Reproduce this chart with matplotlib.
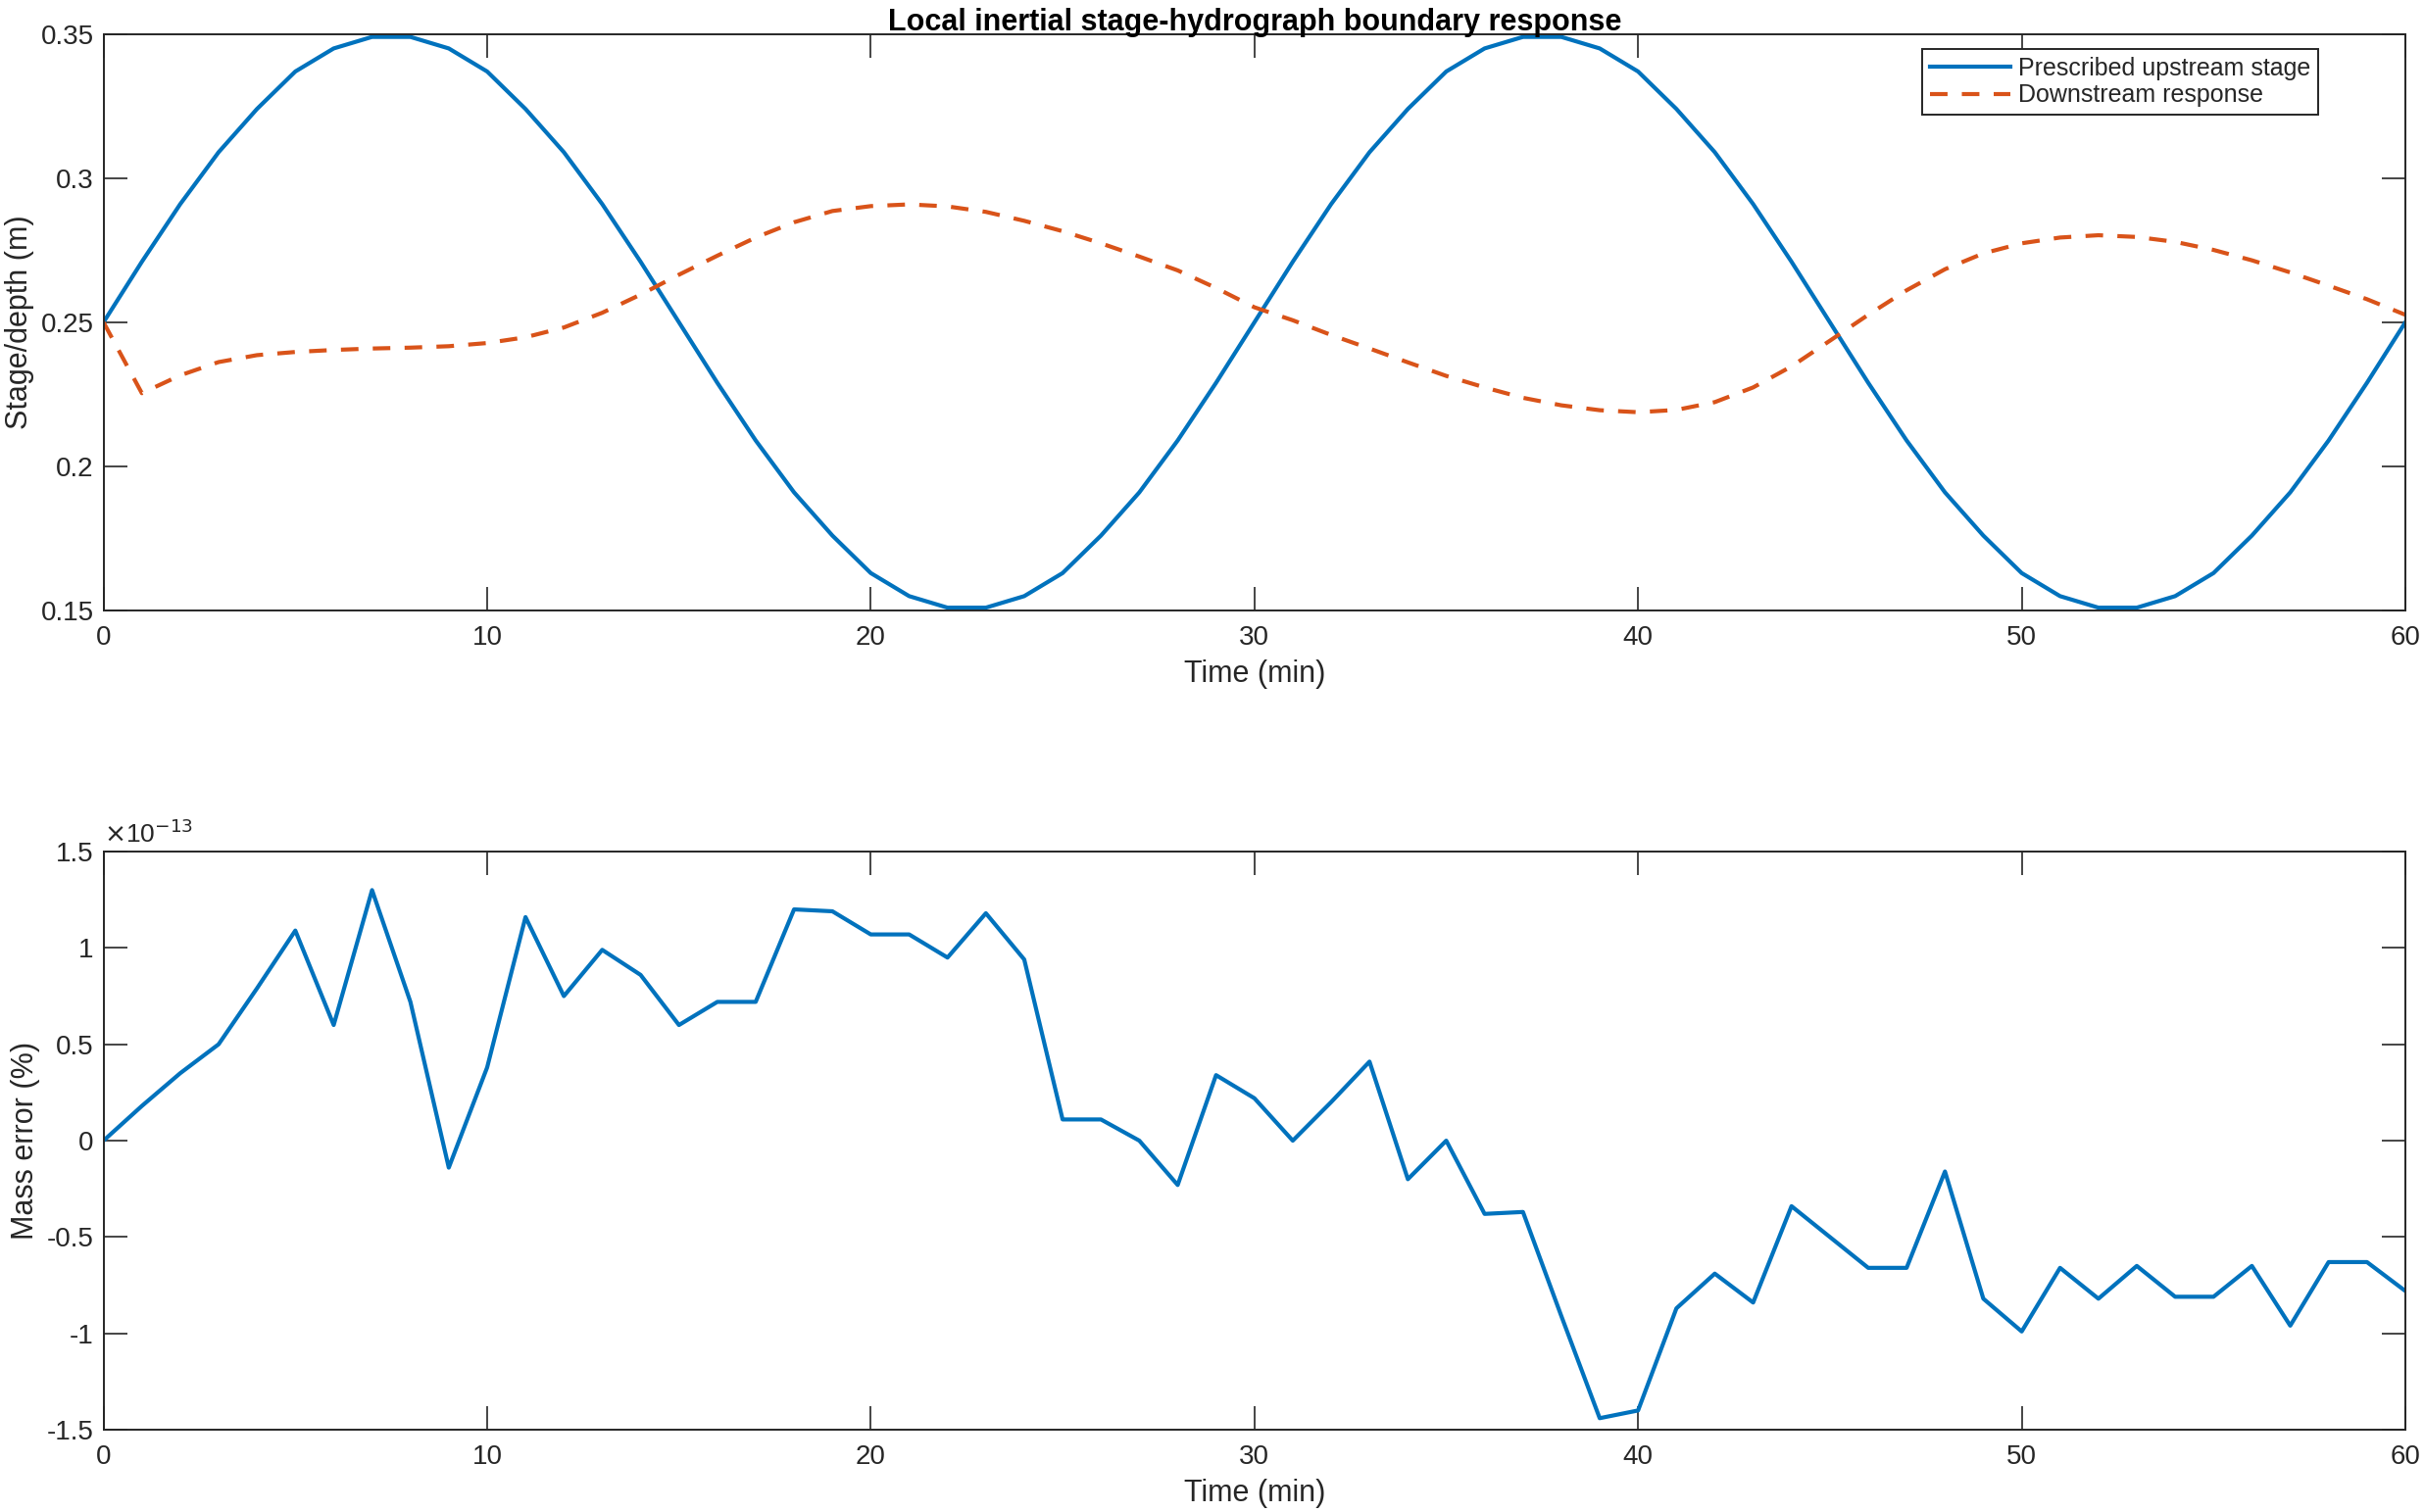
import numpy as np
import matplotlib
matplotlib.use("Agg")
import matplotlib.pyplot as plt
from matplotlib.ticker import FuncFormatter

plt.rcParams['font.family'] = ['Liberation Sans', 'DejaVu Sans']
plt.rcParams['axes.unicode_minus'] = False

t = list(range(61))

upstream = [0.250, 0.271, 0.291, 0.309, 0.324, 0.337, 0.345, 0.349, 0.349, 0.345,
            0.337, 0.324, 0.309, 0.291, 0.271, 0.250, 0.229, 0.209, 0.191, 0.176,
            0.163, 0.155, 0.151, 0.151, 0.155, 0.163, 0.176, 0.191, 0.209, 0.229,
            0.250, 0.271, 0.291, 0.309, 0.324, 0.337, 0.345, 0.349, 0.349, 0.345,
            0.337, 0.324, 0.309, 0.291, 0.271, 0.250, 0.229, 0.209, 0.191, 0.176,
            0.163, 0.155, 0.151, 0.151, 0.155, 0.163, 0.176, 0.191, 0.209, 0.229,
            0.250]

downstream = [0.2500, 0.2254, 0.2316, 0.2362, 0.2386, 0.2397, 0.2404, 0.2409, 0.2412, 0.2417,
              0.2428, 0.2448, 0.2482, 0.2533, 0.2596, 0.2665, 0.2731, 0.2794, 0.2847, 0.2886,
              0.2903, 0.2909, 0.2902, 0.2883, 0.2852, 0.2816, 0.2774, 0.2728, 0.2680, 0.2619,
              0.2552, 0.2507, 0.2456, 0.2409, 0.2361, 0.2314, 0.2274, 0.2238, 0.2212, 0.2195,
              0.2188, 0.2196, 0.2223, 0.2274, 0.2347, 0.2436, 0.2526, 0.2611, 0.2684, 0.2739,
              0.2774, 0.2794, 0.2802, 0.2796, 0.2779, 0.2751, 0.2715, 0.2673, 0.2627, 0.2580,
              0.2526]

# mass error in units of 1e-13 %
mass_err = [0.0, 0.18, 0.35, 0.50, 0.79, 1.09, 0.60, 1.30, 0.72, -0.14,
            0.38, 1.16, 0.75, 0.99, 0.86, 0.60, 0.72, 0.72, 1.20, 1.19,
            1.07, 1.07, 0.95, 1.18, 0.94, 0.11, 0.11, 0.0, -0.23, 0.34,
            0.22, 0.0, 0.20, 0.41, -0.20, 0.0, -0.38, -0.37, -0.91, -1.44,
            -1.40, -0.87, -0.69, -0.84, -0.34, -0.50, -0.66, -0.66, -0.16, -0.82,
            -0.99, -0.66, -0.82, -0.65, -0.81, -0.81, -0.65, -0.96, -0.63, -0.63,
            -0.78]

blue = '#0072BD'
orange = '#D95319'
dark = '#262626'

fig = plt.figure(figsize=(24.73, 15.43), dpi=100)
ax1 = fig.add_axes([0.0427, 0.5962, 0.9496, 0.3813])
ax2 = fig.add_axes([0.0427, 0.0544, 0.9496, 0.3824])

for ax in (ax1, ax2):
    ax.tick_params(direction='in', length=17, width=1.2, top=True, right=True,
                   labelsize=20, colors=dark)
    ax.tick_params(axis='x', pad=11)
    ax.tick_params(axis='y', pad=7)
    for s in ax.spines.values():
        s.set_color(dark)
        s.set_linewidth(1.4)
    ax.set_xlim(0, 60)
    ax.set_xticks([0, 10, 20, 30, 40, 50, 60])
    ax.set_xlabel('Time (min)', fontsize=22, color=dark, labelpad=6)
    ax.yaxis.set_major_formatter(FuncFormatter(lambda v, p: '%g' % round(v, 6)))

ax1.plot(t, upstream, color=blue, lw=3, label='Prescribed upstream stage')
ax1.plot(t, downstream, color=orange, lw=3, ls=(0, (4.3, 3.5)), label='Downstream response')
ax1.set_ylim(0.15, 0.35)
ax1.set_yticks([0.15, 0.2, 0.25, 0.3, 0.35])
ax1.set_ylabel('Stage/depth (m)', fontsize=22, color=dark, labelpad=5)
ax1.set_title('Local inertial stage-hydrograph boundary response', fontsize=22,
              fontweight='bold', color='black', pad=3)
leg = ax1.legend(loc='upper right', bbox_to_anchor=(0.962, 0.974), borderaxespad=0,
                 fontsize=18, fancybox=False, framealpha=1, edgecolor=dark,
                 handlelength=3.3, handletextpad=0.3, labelspacing=0.15,
                 borderpad=0.3)
leg.get_frame().set_linewidth(1.4)
for txt in leg.get_texts():
    txt.set_color(dark)

ax2.plot(t, mass_err, color=blue, lw=3)
ax2.set_ylim(-1.5, 1.5)
ax2.set_yticks([-1.5, -1, -0.5, 0, 0.5, 1, 1.5])
ax2.set_ylabel('Mass error (%)', fontsize=22, color=dark, labelpad=5)
ax2.text(0.0, 1.006, r'$\times$10$^{-13}$', transform=ax2.transAxes, fontsize=19,
         color=dark, ha='left', va='bottom')

fig.savefig('out.png', dpi=100)
